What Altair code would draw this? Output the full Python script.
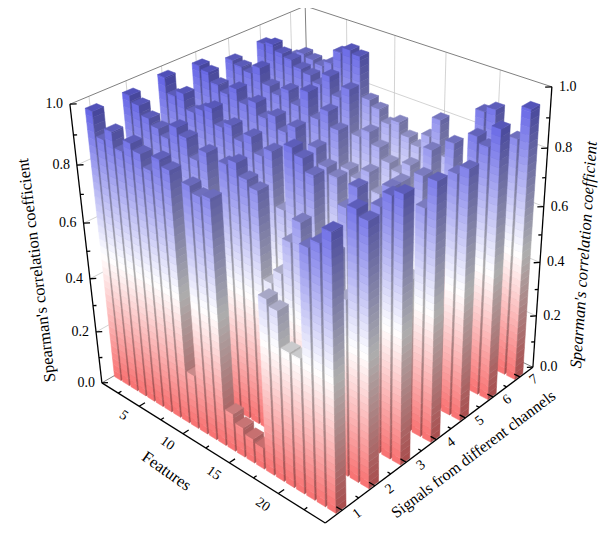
import numpy as np
import pandas as pd
import altair as alt

alt.data_transformers.disable_max_rows()

# ---------------- data ----------------
features = list(range(1, 25))
channels = list(range(1, 8))

ch1 = [0.97, 0.89, 0.93, 0.88, 0.92, 0.90, 0.86, 0.91, 0.89, 0.20, 0.87, 0.85,
       0.86, 0.14, 0.11, 0.09, 0.08, 0.62, 0.60, 0.48, 0.48, 0.85, 0.88, 0.93]
ch2 = [0.97, 0.95, 0.92, 0.90, 0.88, 0.93, 0.91, 0.85, 0.89, 0.62, 0.88, 0.90,
       0.86, 0.84, 0.55, 0.60, 0.72, 0.80, 0.66, 0.58, 0.75, 0.62, 0.92, 0.90]
ch3 = [0.98, 0.93, 0.95, 0.90, 0.92, 0.94, 0.89, 0.91, 0.87, 0.90, 0.85, 0.88,
       0.70, 0.92, 0.90, 0.86, 0.62, 0.55, 0.80, 0.88, 0.75, 0.85, 0.90, 0.92]
ch4 = [0.97, 0.96, 0.93, 0.91, 0.94, 0.90, 0.92, 0.88, 0.90, 0.86, 0.89, 0.65,
       0.85, 0.80, 0.78, 0.60, 0.72, 0.40, 0.30, 0.82, 0.78, 0.55, 0.80, 0.90]
ch5 = [0.94, 0.93, 0.92, 0.95, 0.90, 0.88, 0.91, 0.87, 0.93, 0.85, 0.89, 0.84,
       0.72, 0.70, 0.74, 0.68, 0.66, 0.75, 0.70, 0.80, 0.45, 0.35, 0.85, 0.88]
ch6 = [0.95, 0.96, 0.94, 0.93, 0.91, 0.90, 0.88, 0.92, 0.86, 0.90, 0.75, 0.78,
       0.74, 0.70, 0.68, 0.72, 0.60, 0.80, 0.65, 0.85, 0.70, 0.90, 0.88, 0.95]
ch7 = [0.86, 0.88, 0.87, 0.86, 0.88, 0.93, 0.95, 0.94, 0.80, 0.78, 0.74, 0.76,
       0.72, 0.70, 0.75, 0.82, 0.70, 0.64, 0.68, 0.90, 0.92, 0.70, 0.85, 0.96]
series = [ch1, ch2, ch3, ch4, ch5, ch6, ch7]

z_ticks = [0.0, 0.2, 0.4, 0.6, 0.8, 1.0]
z_labels = ["0.0", "0.2", "0.4", "0.6", "0.8", "1.0"]
feature_ticks = [5, 10, 15, 20]
channel_ticks = [1, 2, 3, 4, 5, 6, 7]

# ---------------- 3D box + camera ----------------
F0, F1 = 0.5, 24.5
C0, C1 = 0.5, 7.5
corners_world = [(F0, C0, 0), (F1, C0, 0), (F1, C1, 0),
                 (F0, C0, 1), (F1, C1, 1), (F0, C1, 1)]
corners_screen = [(102, 383), (325, 523), (533, 367),
                  (70, 104), (552, 87), (305, 6)]


def norm_w(f, c, z):
    return ((f - F0) / (F1 - F0), (c - C0) / (C1 - C0), z)


rows = []
for (f, c, z), (u, v) in zip(corners_world, corners_screen):
    X, Y, Z = norm_w(f, c, z)
    u = (u - 300) / 300.0
    v = (v - 270) / 300.0
    rows.append([X, Y, Z, 1, 0, 0, 0, 0, -u * X, -u * Y, -u * Z, -u])
    rows.append([0, 0, 0, 0, X, Y, Z, 1, -v * X, -v * Y, -v * Z, -v])
_, _, Vt = np.linalg.svd(np.array(rows, float))
P = Vt[-1].reshape(3, 4)


def proj(f, c, z):
    X, Y, Z = norm_w(f, c, z)
    h = P @ np.array([X, Y, Z, 1.0])
    return h[0] / h[2] * 300 + 300, h[1] / h[2] * 300 + 270


# ---------------- colours ----------------
stops = [(0.0, (248, 112, 112)), (0.47, (255, 255, 255)), (1.0, (92, 92, 228))]


def cmap(z):
    for (z0, c0), (z1, c1) in zip(stops[:-1], stops[1:]):
        if z <= z1:
            t = (z - z0) / (z1 - z0)
            return tuple(a + (b - a) * t for a, b in zip(c0, c1))
    return stops[-1][1]


def hexcol(rgb, k=1.0):
    return "#%02x%02x%02x" % tuple(int(round(max(0, min(255, q * k)))) for q in rgb)


# ---------------- bar polygons ----------------
HW, HD, BAND = 0.4, 0.15, 0.025
poly_rows = []
pid = [0]


def add_poly(pts, col):
    pts = pts + [pts[0]]
    for k, (f, c, z) in enumerate(pts):
        u, v = proj(f, c, z)
        poly_rows.append({"pid": pid[0], "k": k, "x": round(u, 2), "y": round(v, 2), "col": col})
    pid[0] += 1


for ci in range(len(channels) - 1, -1, -1):
    c = channels[ci]
    for fi, f in enumerate(features):
        val = series[ci][fi]
        lv = [round(q, 4) for q in np.arange(0, val, BAND) if q < val - 1e-6] + [val]
        for z0, z1 in zip(lv[:-1], lv[1:]):
            rgb = cmap((z0 + z1) / 2)
            add_poly([(f - HW, c - HD, z0), (f + HW, c - HD, z0),
                      (f + HW, c - HD, z1), (f - HW, c - HD, z1)], hexcol(rgb))
            add_poly([(f + HW, c - HD, z0), (f + HW, c + HD, z0),
                      (f + HW, c + HD, z1), (f + HW, c - HD, z1)], hexcol(rgb, 0.68))
        add_poly([(f - HW, c - HD, val), (f + HW, c - HD, val),
                  (f + HW, c + HD, val), (f - HW, c + HD, val)], hexcol(cmap(val), 0.8))

poly_df = pd.DataFrame(poly_rows)

# ---------------- lines ----------------
line_rows = []
sid = [0]


def add_line(kind, a, b):
    for k, p in enumerate((a, b)):
        u, v = proj(*p)
        line_rows.append({"sid": sid[0], "k": k, "x": u, "y": v, "kind": kind})
    sid[0] += 1


for c in channel_ticks:
    add_line("grid", (F0, c, 0), (F0, c, 1))
for f in feature_ticks:
    add_line("grid", (f, C1, 0), (f, C1, 1))
for z in z_ticks[1:-1]:
    add_line("grid", (F0, C0, z), (F0, C1, z))
    add_line("grid", (F0, C1, z), (F1, C1, z))
add_line("edge", (F0, C0, 1), (F0, C1, 1))
add_line("edge", (F0, C1, 1), (F1, C1, 1))
add_line("edge", (F0, C1, 0), (F0, C1, 1))
add_line("edge", (F0, C0, 0), (F0, C1, 0))
add_line("edge", (F0, C1, 0), (F1, C1, 0))

add_line("axis", (F0, C0, 0), (F1, C0, 0))
add_line("axis", (F1, C0, 0), (F1, C1, 0))
add_line("axis", (F0, C0, 0), (F0, C0, 1))
add_line("axis", (F1, C1, 0), (F1, C1, 1))
for i in range(11):
    z = i / 10
    s = 1.0 if i % 2 == 0 else 0.55
    add_line("axis", (F0, C0, z), (F0 + 0.33 * s, C0 + 0.1 * s, z))
    add_line("axis", (F1, C1, z), (F1 - 0.33 * s, C1 - 0.1 * s, z))
for i in range(1, 10):
    f = 2.5 * i
    s = 1.0 if i % 2 == 0 else 0.55
    add_line("axis", (f, C0, 0), (f, C0 + 0.17 * s, 0))
for c in channel_ticks:
    add_line("axis", (F1, c, 0), (F1 - 0.55, c, 0))
for c in channel_ticks[:-1]:
    add_line("axis", (F1, c + 0.5, 0), (F1 - 0.3, c + 0.5, 0))

line_df = pd.DataFrame(line_rows)

# ---------------- texts ----------------
def pt(p, off=(0, 0)):
    u, v = proj(*p)
    return {"x": u + off[0], "y": v + off[1]}


zl_df = pd.DataFrame([dict(pt((F0, C0, z)), t=s) for z, s in zip(z_ticks, z_labels)])
zr_df = pd.DataFrame([dict(pt((F1, C1, z)), t=s) for z, s in zip(z_ticks, z_labels)])
fl_df = pd.DataFrame([dict(pt((f, C0 - 0.45, 0)), t=str(f)) for f in feature_ticks])
cl_df = pd.DataFrame([dict(pt((F1 + 1.0, c + 0.13, 0)), t=str(c)) for c in channel_ticks])
ft_df = pd.DataFrame([dict(pt((12.3, C0 - 1.07, 0)), t="Features")])
ct_df = pd.DataFrame([dict(pt((F1 + 3.6, 3.8, 0), (4, -11)), t="Signals from different channels")])
yl_df = pd.DataFrame([dict(pt((F0, C0, 0.5), (-50, 19)), t="Spearman's correlation coefficient")])
yr_df = pd.DataFrame([dict(pt((F1, C1, 0.5), (42, 20)), t="Spearman's correlation coefficient")])

# ---------------- chart ----------------
xs = alt.Scale(domain=[8, 606], nice=False, zero=False)
ys = alt.Scale(domain=[8, 528], nice=False, zero=False, reverse=True)
X = alt.X("x:Q", scale=xs, axis=None)
Y = alt.Y("y:Q", scale=ys, axis=None)
FONT = "Liberation Serif"


def lines(kind, color, width):
    return alt.Chart(line_df[line_df.kind == kind]).mark_line(
        color=color, strokeWidth=width).encode(
        x=X, y=Y, order=alt.Order("k:Q"), detail="sid:N")


bars = alt.Chart(poly_df).mark_line(filled=True, strokeWidth=0.5, strokeJoin="round").encode(
    x=X, y=Y, order=alt.Order("k:Q"), detail="pid:N",
    fill=alt.Fill("col:N", scale=None), stroke=alt.Stroke("col:N", scale=None))


def text(df, **kw):
    base = dict(font=FONT, fontSize=14, color="black")
    base.update(kw)
    return alt.Chart(df).mark_text(**base).encode(x=X, y=Y, text="t:N")


chart = alt.layer(
    lines("grid", "#c8c8c8", 0.8),
    lines("edge", "#808080", 1.0),
    bars,
    lines("axis", "black", 1.3),
    text(zl_df, align="right", baseline="middle", dx=-7),
    text(zr_df, align="left", baseline="middle", dx=7),
    text(fl_df, align="center", baseline="middle", angle=35),
    text(cl_df, align="center", baseline="middle", angle=323),
    text(ft_df, align="center", baseline="middle", angle=35, fontSize=16.5),
    text(ct_df, align="center", baseline="middle", angle=323, fontSize=16),
    text(yl_df, align="center", baseline="middle", angle=263, fontSize=16.5),
    text(yr_df, align="center", baseline="middle", angle=274, fontSize=16.5,
         fontStyle="italic"),
).properties(
    width=598, height=520, padding=0, autosize=alt.AutoSizeParams(type="none")
).configure_view(stroke=None)

chart.save("out.html", embed_options={"renderer": "svg", "actions": False})
